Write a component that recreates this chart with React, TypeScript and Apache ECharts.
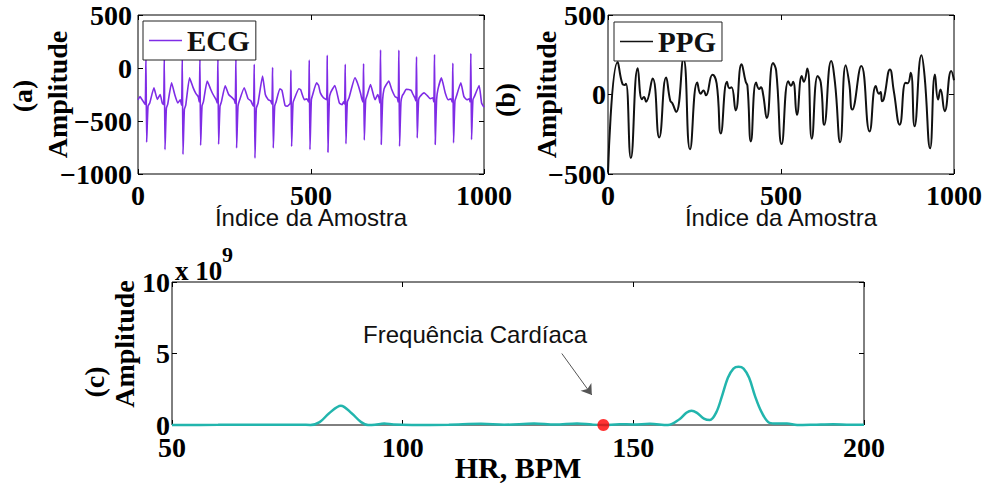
import React, { useEffect, useRef } from 'react';
import * as echarts from 'echarts';

// ECG samples (index, amplitude) – R peaks, S troughs and T waves per beat
const ecgTrace: [number, number][] = [
  [0, -300], [6, -270], [12, -300], [18, -330], [21, -345],
  [23, 100], [25, -700], [29, -360], [34, -330], [46, -187], [56, -297], [64, -250], [70, -330], [74, -345],
  [76, 90], [78, -770], [82, -380], [86, -340], [97, -140], [107, -260], [115, -330], [122, -300], [126, -350],
  [128, 90], [130, -815], [134, -390], [138, -350], [149, -93], [159, -183], [167, -240], [174, -270], [177, -320],
  [179, 90], [181, -730], [185, -360], [189, -320], [200, -124], [210, -200], [217, -250], [226, -300], [229, -330],
  [231, 85], [233, -720], [237, -360], [241, -320], [252, -167], [262, -250], [272, -280], [278, -300], [281, -335],
  [283, 90], [285, -755], [289, -360], [293, -310], [307, -187], [318, -290], [326, -310], [331, -345], [334, -360],
  [336, 35], [338, -850], [342, -380], [347, -330], [360, -77], [368, -250], [376, -297], [383, -310], [387, -340],
  [389, 5], [391, -755], [395, -360], [399, -320], [410, -196], [416, -210], [425, -353], [432, -360], [440, -330],
  [442, -20], [444, -740], [448, -330], [452, -290], [465, -196], [470, -205], [481, -300], [488, -290], [493, -320],
  [495, 75], [497, -770], [501, -300], [505, -250], [516, -140], [522, -165], [527, -235], [536, -280], [545, -300],
  [547, 120], [549, -795], [553, -290], [557, -230], [569, -165], [582, -330], [590, -346], [594, -320], [597, -340],
  [599, 35], [601, -715], [605, -320], [610, -280], [627, -93], [634, -140], [643, -235], [646, -280], [650, -320],
  [652, 40], [654, -680], [658, -300], [662, -260], [672, -156], [685, -300], [693, -250], [697, -290], [699, -330],
  [701, 170], [703, -722], [707, -300], [711, -200], [716, -165], [725, -124], [733, -200], [743, -270], [749, -280], [752, -320],
  [754, 168], [756, -738], [760, -320], [764, -260], [769, -235], [775, -200], [789, -210], [795, -250], [800, -280], [803, -310],
  [805, 105], [807, -660], [811, -300], [815, -270], [827, -235], [836, -260], [845, -290], [852, -280], [855, -320],
  [857, 127], [859, -722], [863, -300], [867, -200], [877, -93], [888, -235], [897, -300], [904, -290], [908, -320],
  [910, 45], [912, -706], [916, -310], [920, -270], [933, -140], [942, -270], [951, -300], [957, -290], [960, -320],
  [962, 137], [964, -675], [968, -300], [972, -270], [986, -165], [993, -330], [1000, -370],
];

// PPG samples (index, amplitude) – peaks, troughs and dicrotic notches
const ppgTrace: [number, number][] = [
  [0, -490], [28, 205], [42, 65], [48, 60], [52, 68], [66, -400], [86, 165], [98, -30], [104, -15], [110, -45],
  [129, 100], [148, -270], [168, 107], [180, -40], [186, -55], [197, -110], [218, 225], [237, -345], [258, 75],
  [268, 5], [276, 25], [283, -5], [302, 125], [314, 70], [326, -245], [344, 80], [351, 40], [357, 45], [369, -100],
  [386, 190], [398, 80], [403, 55], [413, -295], [428, 75], [437, 35], [442, 45], [448, 5], [459, -148], [477, 198],
  [486, 150], [502, -312], [521, 84], [529, 55], [535, 80], [546, -127], [560, 116], [566, 80], [576, 163],
  [589, -278], [606, 116], [615, 74], [625, -190], [645, 211], [656, 74], [671, -300], [687, 184], [697, 74],
  [706, -95], [732, 179], [756, -232], [774, 53], [783, 5], [788, 15], [792, -42], [797, -30], [815, 158],
  [826, 21], [843, -190], [860, 74], [866, 70], [875, 137], [886, -200], [906, 247], [915, 116], [931, -338],
  [945, 126], [954, -32], [961, 32], [973, -105], [992, 148], [1000, 90],
];

// Spectrum amplitude (x 10^9) against heart rate in BPM
const spectrum: [number, number][] = [
  [50, 0], [60, 0.01], [70, 0.02], [78, 0.02], [80, 0], [82, 0.2], [84, 0.8], [86.6, 1.35], [89, 0.8], [91, 0.2],
  [92.5, 0], [94, 0.02], [96, 0.1], [98, 0.03], [102, 0], [110, 0.02], [117, 0.08], [122, 0.02], [128.5, 0.1],
  [133, 0.03], [137.8, 0.1], [141, 0.03], [143.5, 0], [147, 0.05], [150, 0.04], [153.6, 0.08], [157.5, 0],
  [160, 0.4], [161.5, 0.85], [162.6, 1.0], [163.8, 0.85], [165.3, 0.45], [166.6, 0.35], [168, 0.9], [169.2, 2.0],
  [170.5, 3.3], [171.7, 3.95], [172.8, 4.08], [173.9, 3.95], [175.1, 3.3], [176.4, 2.0], [177.8, 0.9],
  [179.5, 0.15], [181, 0.1], [183.3, 0.1], [185.5, 0], [189, 0.02], [193.3, 0.06], [197, 0.01], [200, 0.02],
];

// Detected heart rate marked on the spectrum
const heartRate: [number, number][] = [[143.5, 0]];

const sampleRange = [0, 1000];
const sampleStep = 500;
const ecgRange = [-1000, 500];
const ppgRange = [-500, 500];
const bpmRange = [50, 200];
const bpmStep = 50;
const specRange = [0, 10];
const specStep = 5;

const SERIF = '"Liberation Serif", "Times New Roman", serif';
const SANS = '"Liberation Sans", Arial, sans-serif';

const tickFmt = (v: number) => (v < 0 ? '\u2212' + Math.abs(v) : String(v));

const App: React.FC = () => {
  const ref = useRef<HTMLDivElement>(null);

  useEffect(() => {
    if (!ref.current) return;
    const chart = echarts.init(ref.current, undefined, { renderer: 'svg' });

    const tick = { show: true, inside: true, length: 5, lineStyle: { color: '#000', width: 1 } };
    const hiddenLine = { show: false, onZero: false };
    const label = (margin: number) => ({
      show: true,
      margin,
      fontFamily: SERIF,
      fontWeight: 'bold' as const,
      fontSize: 28,
      color: '#000',
      formatter: tickFmt,
    });

    const xPair = (grid: number, range: number[], step: number, margin: number, name: string, nameStyle: any, nameGap: number) => [
      {
        type: 'value', gridIndex: grid, min: range[0], max: range[1], interval: step, position: 'bottom',
        axisLine: hiddenLine, axisTick: tick, splitLine: { show: false }, axisLabel: label(margin),
        name, nameLocation: 'middle', nameGap, nameMoveOverlap: false, nameTextStyle: nameStyle,
      },
      {
        type: 'value', gridIndex: grid, min: range[0], max: range[1], interval: step, position: 'top',
        axisLine: hiddenLine, axisTick: tick, splitLine: { show: false }, axisLabel: { show: false },
      },
    ];
    const yPair = (grid: number, range: number[], step: number, margin: number, nameGap: number, namePad: number[]) => [
      {
        type: 'value', gridIndex: grid, min: range[0], max: range[1], interval: step, position: 'left',
        axisLine: hiddenLine, axisTick: tick, splitLine: { show: false }, axisLabel: label(margin),
        name: 'Amplitude', nameLocation: 'middle', nameRotate: 90, nameGap, nameMoveOverlap: false,
        nameTextStyle: { fontFamily: SERIF, fontWeight: 'bold', fontSize: 28, color: '#000', padding: namePad },
      },
      {
        type: 'value', gridIndex: grid, min: range[0], max: range[1], interval: step, position: 'right',
        axisLine: hiddenLine, axisTick: tick, splitLine: { show: false }, axisLabel: { show: false },
      },
    ];

    const sansName = { fontFamily: SANS, fontSize: 24, color: '#111' };
    const serifName = { fontFamily: SERIF, fontWeight: 'bold', fontSize: 30, color: '#000' };

    const legendBase = {
      orient: 'horizontal',
      selectedMode: false,
      backgroundColor: '#fff',
      borderColor: '#222',
      borderWidth: 1,
      borderRadius: 0,
      padding: [5, 6, 5, 6],
      icon: 'rect',
      itemWidth: 33,
      itemHeight: 1.6,
      itemGap: 0,
      textStyle: { fontFamily: SERIF, fontWeight: 'bold', fontSize: 29, color: '#111' },
    };

    const gridBase = {
      show: true, borderColor: '#000', borderWidth: 1, backgroundColor: 'transparent',
      containLabel: false, outerBoundsMode: 'none',
    };

    chart.setOption({
      animation: false,
      backgroundColor: '#fff',
      grid: [
        { ...gridBase, left: 138, top: 15, width: 346, height: 159 },
        { ...gridBase, left: 608, top: 15, width: 346, height: 159 },
        { ...gridBase, left: 172, top: 282, width: 692, height: 143 },
      ],
      xAxis: [
        ...xPair(0, sampleRange, sampleStep, 7, 'Índice da Amostra', sansName, 31),
        ...xPair(1, sampleRange, sampleStep, 7, 'Índice da Amostra', sansName, 31),
        ...xPair(2, bpmRange, bpmStep, 8, 'HR, BPM', serifName, 27),
      ],
      yAxis: [
        ...yPair(0, ecgRange, 500, 6, 67, [0, 0, 0, 0]),
        ...yPair(1, ppgRange, 500, 2, 48, [0, 0, 0, 0]),
        ...yPair(2, specRange, specStep, 2, 34, [0, 0, 0, 19]),
      ],
      legend: [
        { ...legendBase, left: 143, top: 21, data: ['ECG'] },
        { ...legendBase, left: 614, top: 22, data: ['PPG'] },
      ],
      graphic: [
        { type: 'text', x: 22, y: 96, rotation: Math.PI / 2, style: { text: '(a)', fontFamily: SERIF, fontWeight: 'bold', fontSize: 28, fill: '#000', align: 'center', verticalAlign: 'middle' } },
        { type: 'text', x: 505, y: 100, rotation: Math.PI / 2, style: { text: '(b)', fontFamily: SERIF, fontWeight: 'bold', fontSize: 28, fill: '#000', align: 'center', verticalAlign: 'middle' } },
        { type: 'text', x: 94, y: 382, rotation: Math.PI / 2, style: { text: '(c)', fontFamily: SERIF, fontWeight: 'bold', fontSize: 28, fill: '#000', align: 'center', verticalAlign: 'middle' } },
        { type: 'text', x: 175, y: 271, style: { text: 'x 10', fontFamily: SERIF, fontWeight: 'bold', fontSize: 27, fill: '#000', align: 'left', verticalAlign: 'middle' } },
        { type: 'text', x: 222, y: 254, style: { text: '9', fontFamily: SERIF, fontWeight: 'bold', fontSize: 22, fill: '#000', align: 'left', verticalAlign: 'middle' } },
      ],
      series: [
        {
          name: 'ECG', type: 'line', xAxisIndex: 0, yAxisIndex: 0, data: ecgTrace, smooth: 0.15,
          symbol: 'none', showSymbol: false, lineStyle: { color: '#7f2ce6', width: 1.6 }, itemStyle: { color: '#7f2ce6' },
        },
        {
          name: 'PPG', type: 'line', xAxisIndex: 2, yAxisIndex: 2, data: ppgTrace, smooth: 0.5,
          symbol: 'none', showSymbol: false, lineStyle: { color: '#111', width: 2 }, itemStyle: { color: '#111' },
        },
        {
          name: 'Espectro', type: 'line', xAxisIndex: 4, yAxisIndex: 4, data: spectrum, smooth: 0.35, clip: false,
          symbol: 'none', showSymbol: false, lineStyle: { color: '#22b5ad', width: 2.5 }, itemStyle: { color: '#22b5ad' },
          markLine: {
            silent: true,
            symbol: ['none', 'arrow'],
            symbolSize: 10,
            lineStyle: { color: '#555', width: 1, type: 'solid' },
            label: { show: false },
            data: [[{ coord: [134.5, 5.0] }, { coord: [141, 2.1] }]],
          },
          markPoint: {
            silent: true,
            symbol: 'rect',
            symbolSize: 1,
            itemStyle: { color: 'transparent' },
            label: { show: true, position: 'inside', formatter: 'Frequência Cardíaca', fontFamily: SANS, fontSize: 24, color: '#111' },
            data: [{ coord: [115.7, 6.3] }],
          },
        },
        {
          name: 'HR', type: 'scatter', xAxisIndex: 4, yAxisIndex: 4, data: heartRate, clip: false,
          symbolSize: 12, itemStyle: { color: '#ff0000' }, z: 5,
        },
      ],
    });

    return () => chart.dispose();
  }, []);

  return <div ref={ref} style={{ position: 'absolute', left: 0, top: 0, width: 987, height: 484 }} />;
};

export default App;
